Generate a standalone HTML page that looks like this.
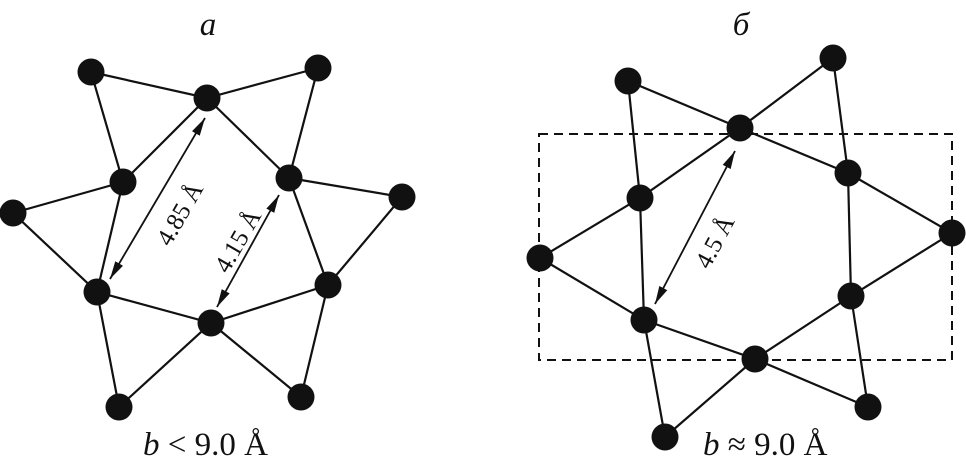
<!DOCTYPE html>
<html><head><style>body{margin:0;background:#fff}svg{display:block}</style></head>
<body>
<svg width="966" height="466" viewBox="0 0 966 466" xmlns="http://www.w3.org/2000/svg" font-family="Liberation Serif, serif">
<defs>
<marker id="a2" viewBox="0 0 20 10" refX="20" refY="5" markerWidth="18" markerHeight="10" orient="auto-start-reverse" markerUnits="userSpaceOnUse">
<path d="M0,0 L20,5 L0,10 z" fill="#111"/>
</marker>
</defs>
<g stroke="#111" stroke-width="2.2" fill="none">
<path d="M91,72L207,98L318,68M91,72L123,182L207,98L289,178L318,68M123,182L13,213L97,292L123,182M289,178L402,197L328,285L289,178M97,292L211,323L328,285M97,292L119,407L211,323L301,397L328,285"/>
<path d="M628,81L740,128L833,58M628,81L640,198L740,128L848,173L833,58M848,173L952,233L851,296L848,173M640,198L540,258L644,320L640,198M644,320L755,359L851,296M755,359L868,407L851,296M644,320L665,437L755,359"/>
<rect x="539" y="134" width="413" height="226" stroke-dasharray="9,6" stroke-width="2"/>
<line x1="205" y1="118" x2="110" y2="279" marker-start="url(#a2)" marker-end="url(#a2)" stroke-width="1.8"/>
<line x1="279" y1="195" x2="217" y2="307" marker-start="url(#a2)" marker-end="url(#a2)" stroke-width="1.8"/>
<line x1="735" y1="151" x2="655" y2="304" marker-start="url(#a2)" marker-end="url(#a2)" stroke-width="1.8"/>
</g>
<g fill="#111">
<circle cx="91" cy="72" r="13.5"/><circle cx="207" cy="98" r="13.5"/><circle cx="318" cy="68" r="13.5"/>
<circle cx="123" cy="182" r="13.5"/><circle cx="289" cy="178" r="13.5"/><circle cx="13" cy="213" r="13.5"/>
<circle cx="402" cy="197" r="13.5"/><circle cx="97" cy="292" r="13.5"/><circle cx="328" cy="285" r="13.5"/>
<circle cx="211" cy="323" r="13.5"/><circle cx="119" cy="407" r="13.5"/><circle cx="301" cy="397" r="13.5"/>
<circle cx="628" cy="81" r="13.5"/><circle cx="833" cy="58" r="13.5"/><circle cx="740" cy="128" r="13.5"/>
<circle cx="848" cy="173" r="13.5"/><circle cx="640" cy="198" r="13.5"/><circle cx="952" cy="233" r="13.5"/>
<circle cx="540" cy="258" r="13.5"/><circle cx="851" cy="296" r="13.5"/><circle cx="644" cy="320" r="13.5"/>
<circle cx="755" cy="359" r="13.5"/><circle cx="868" cy="407" r="13.5"/><circle cx="665" cy="437" r="13.5"/>
</g>
<g fill="#111" font-size="25" text-anchor="middle">
<text transform="translate(180,214) rotate(-60)" dy="8">4.85 Å</text>
<text transform="translate(238,241) rotate(-60)" dy="8">4.15 Å</text>
<text transform="translate(715,242) rotate(-62)" dy="8">4.5 Å</text>
</g>
<g fill="#111" font-size="33">
<text x="208" y="35" font-style="italic" text-anchor="middle">a</text>
<text x="741" y="35" font-style="italic" text-anchor="middle">б</text>
<text x="143" y="455"><tspan font-style="italic">b</tspan> &lt; 9.0 Å</text>
<text x="703" y="455"><tspan font-style="italic">b</tspan> ≈ 9.0 Å</text>
</g>
</svg>
</body></html>
